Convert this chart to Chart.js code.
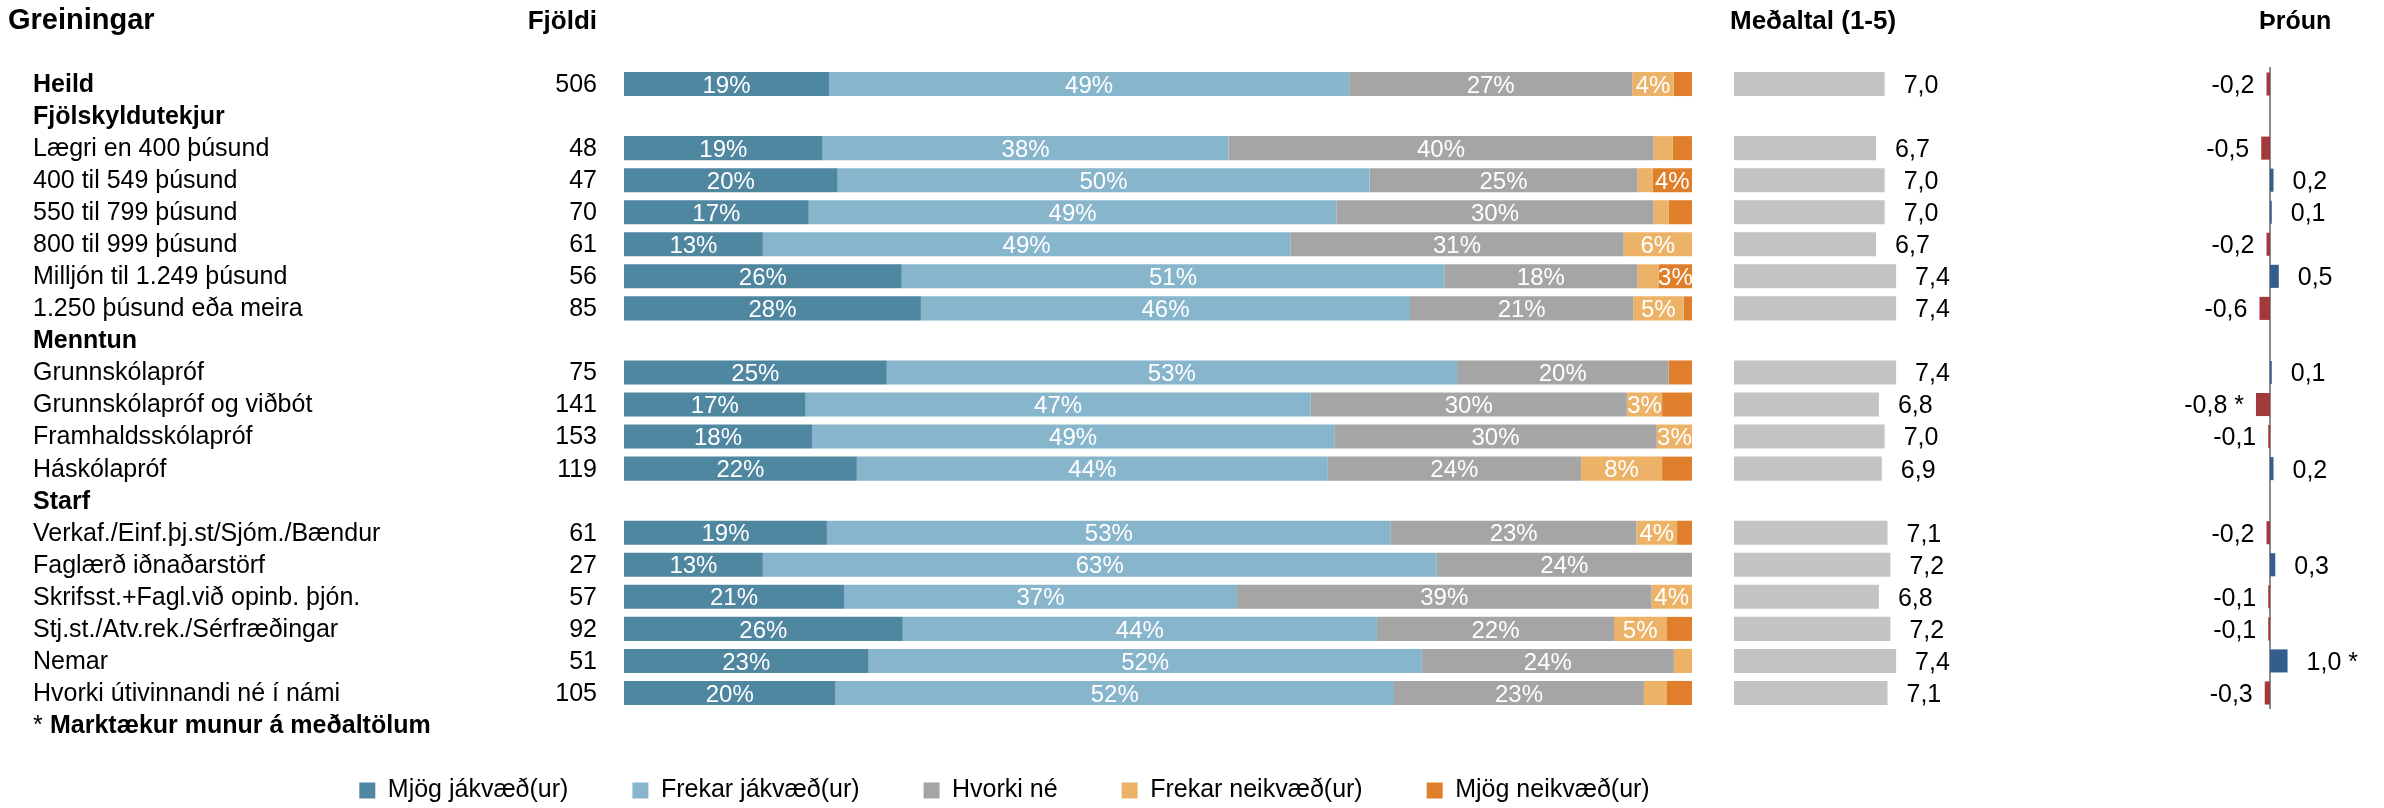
<!DOCTYPE html>
<html>
<head>
<meta charset="utf-8">
<script src="https://cdn.jsdelivr.net/npm/chart.js@4.4.1/dist/chart.umd.min.js"></script>
<style>
  body { margin: 0; background: #fff; }
  #wrap { position: relative; width: 2384px; height: 808px; overflow: hidden; }
  canvas { position: absolute; top: 0; }
</style>
</head>
<body>
<div id="wrap">
  <canvas id="main" width="2009" height="813" style="left:0"></canvas>
  <canvas id="mean" width="300" height="808" style="left:1700px"></canvas>
  <canvas id="trend" width="284" height="808" style="left:2100px"></canvas>
</div>
<script>
const FONT = "'Liberation Sans', Arial, sans-serif";

const categories = [
  "Heild", "Fjölskyldutekjur", "Lægri en 400 þúsund", "400 til 549 þúsund",
  "550 til 799 þúsund", "800 til 999 þúsund", "Milljón til 1.249 þúsund",
  "1.250 þúsund eða meira", "Menntun", "Grunnskólapróf", "Grunnskólapróf og viðbót",
  "Framhaldsskólapróf", "Háskólapróf", "Starf", "Verkaf./Einf.þj.st/Sjóm./Bændur",
  "Faglærð iðnaðarstörf", "Skrifsst.+Fagl.við opinb. þjón.", "Stj.st./Atv.rek./Sérfræðingar",
  "Nemar", "Hvorki útivinnandi né í námi"
];
const headerRows = ["Heild", "Fjölskyldutekjur", "Menntun", "Starf"];
const footnote = "Marktækur munur á meðaltölum";

const counts = [506, null, 48, 47, 70, 61, 56, 85, null, 75, 141, 153, 119, null, 61, 27, 57, 92, 51, 105];

const seriesNames = ["Mjög jákvæð(ur)", "Frekar jákvæð(ur)", "Hvorki né", "Frekar neikvæð(ur)", "Mjög neikvæð(ur)"];
const veryPositive = [19.2, null, 18.6, 20.0, 17.3, 13.0, 26.0, 27.8, null, 24.6, 17.0, 17.6, 21.8, null, 19.0, 13.0, 20.6, 26.1, 22.9, 19.8];
const positive     = [48.7, null, 38.0, 49.8, 49.4, 49.4, 50.8, 45.8, null, 53.4, 47.3, 48.9, 44.1, null, 52.8, 63.1, 36.8, 44.4, 51.8, 52.3];
const neither      = [26.5, null, 39.8, 25.1, 29.7, 31.2, 18.1, 20.9, null, 19.8, 29.6, 30.2, 23.7, null, 23.0, 23.9, 38.8, 22.2, 23.6, 23.4];
const negative     = [3.9, null, 1.8, 1.4, 1.4, 6.4, 2.0, 4.7, null, 0, 3.3, 3.3, 7.6, null, 3.8, 0, 3.8, 4.9, 1.7, 2.1];
const veryNegative = [1.8, null, 1.8, 3.7, 2.2, 0, 3.1, 0.8, null, 2.2, 2.8, 0, 2.8, null, 1.4, 0, 0, 2.4, 0, 2.4];
const seriesColors = ["#4f86a0", "#87b5cb", "#a5a5a5", "#ecb267", "#e07f2b"];

const means = [7.0, null, 6.7, 7.0, 7.0, 6.7, 7.4, 7.4, null, 7.4, 6.8, 7.0, 6.9, null, 7.1, 7.2, 6.8, 7.2, 7.4, 7.1];
const trend = [-0.2, null, -0.5, 0.2, 0.1, -0.2, 0.5, -0.6, null, 0.1, -0.8, -0.1, 0.2, null, -0.2, 0.3, -0.1, -0.1, 1.0, -0.3];
const trendSignificant = [false, false, false, false, false, false, false, false, false, false, true, false, false, false, false, false, false, false, true, false];

Chart.defaults.font.family = FONT;
Chart.defaults.color = "#000";

function fmt(v) {
  return v.toFixed(1).replace(".", ",");
}

// texts in and around the stacked bars
const mainText = {
  id: "mainText",
  afterDatasetsDraw(chart) {
    const ctx = chart.ctx;
    const y = chart.scales.y;
    ctx.save();
    ctx.font = "24px " + FONT;
    ctx.fillStyle = "#fff";
    ctx.textAlign = "center";
    ctx.textBaseline = "middle";
    chart.data.datasets.forEach((ds, k) => {
      chart.getDatasetMeta(k).data.forEach((bar, i) => {
        const v = ds.data[i];
        if (v == null || v < 3) return;
        ctx.fillText(Math.round(v) + "%", (bar.x + bar.base) / 2, bar.y + 2);
      });
    });

    ctx.fillStyle = "#000";
    categories.forEach((c, i) => {
      const py = y.getPixelForValue(i) + 1;
      ctx.textAlign = "left";
      ctx.font = (headerRows.includes(c) ? "bold " : "") + "25px " + FONT;
      ctx.fillText(c, 33, py);
      if (counts[i] != null) {
        ctx.textAlign = "right";
        ctx.font = "25px " + FONT;
        ctx.fillText(String(counts[i]), 597, py);
      }
    });

    // footnote under the last row
    const fy = y.getPixelForValue(categories.length) + 1;
    ctx.textAlign = "left";
    ctx.font = "25px " + FONT;
    ctx.fillText("*", 33, fy);
    ctx.font = "bold 25px " + FONT;
    ctx.fillText(footnote, 50, fy);

    ctx.textBaseline = "alphabetic";
    ctx.font = "bold 29px " + FONT;
    ctx.fillText("Greiningar", 8, 29);
    ctx.textAlign = "right";
    ctx.font = "bold 26px " + FONT;
    ctx.fillText("Fjöldi", 597, 29);
    ctx.restore();
  }
};

new Chart(document.getElementById("main"), {
  type: "bar",
  data: {
    labels: categories,
    datasets: [veryPositive, positive, neither, negative, veryNegative].map((d, k) => ({
      label: seriesNames[k],
      data: d,
      backgroundColor: seriesColors[k],
      barPercentage: 0.75,
      categoryPercentage: 1
    }))
  },
  options: {
    indexAxis: "y",
    animation: false,
    responsive: false,
    layout: { padding: { top: 68 } },
    scales: {
      x: { stacked: true, min: 0, max: 100, display: false },
      y: {
        stacked: true,
        grid: { display: false },
        border: { display: false },
        ticks: { display: false },
        afterFit: s => { s.width = 624; }
      },
      yRight: {
        type: "category",
        position: "right",
        labels: categories,
        grid: { display: false },
        border: { display: false },
        ticks: { display: false },
        afterFit: s => { s.width = 317; }
      }
    },
    plugins: {
      legend: {
        position: "bottom",
        title: { display: true, text: "", font: { size: 5, lineHeight: 1 } },
        labels: { font: { size: 25 }, boxWidth: 16, boxHeight: 16, padding: 64, color: "#000" }
      },
      tooltip: { enabled: false }
    }
  },
  plugins: [mainText]
});

const meanText = {
  id: "meanText",
  afterDatasetsDraw(chart) {
    const ctx = chart.ctx;
    ctx.save();
    ctx.font = "25px " + FONT;
    ctx.fillStyle = "#000";
    ctx.textAlign = "left";
    ctx.textBaseline = "middle";
    chart.getDatasetMeta(0).data.forEach((bar, i) => {
      if (means[i] == null) return;
      ctx.fillText(fmt(means[i]), bar.x + 19, bar.y + 2);
    });
    ctx.textBaseline = "alphabetic";
    ctx.font = "bold 26px " + FONT;
    ctx.fillText("Meðaltal (1-5)", 30, 29);
    ctx.restore();
  }
};

new Chart(document.getElementById("mean"), {
  type: "bar",
  data: {
    labels: categories,
    datasets: [{ data: means, backgroundColor: "#c3c3c3", barPercentage: 0.75, categoryPercentage: 1 }]
  },
  options: {
    indexAxis: "y",
    animation: false,
    responsive: false,
    layout: { padding: { top: 68, bottom: 99, left: 34, right: 66 } },
    scales: {
      x: { display: false, min: 1.75, max: 8.72 },
      y: { display: false }
    },
    plugins: { legend: { display: false }, tooltip: { enabled: false } }
  },
  plugins: [meanText]
});

const trendText = {
  id: "trendText",
  beforeDatasetsDraw(chart) {
    const ctx = chart.ctx;
    const x0 = chart.scales.x.getPixelForValue(0);
    ctx.save();
    ctx.strokeStyle = "#8a8a8a";
    ctx.lineWidth = 2;
    ctx.beginPath();
    ctx.moveTo(x0, chart.chartArea.top - 1);
    ctx.lineTo(x0, chart.chartArea.bottom);
    ctx.stroke();
    ctx.restore();
  },
  afterDatasetsDraw(chart) {
    const ctx = chart.ctx;
    ctx.save();
    ctx.font = "25px " + FONT;
    ctx.fillStyle = "#000";
    ctx.textBaseline = "middle";
    chart.getDatasetMeta(0).data.forEach((bar, i) => {
      const v = trend[i];
      if (v == null) return;
      const txt = fmt(v) + (trendSignificant[i] ? " *" : "");
      if (v < 0) {
        ctx.textAlign = "right";
        ctx.fillText(txt, bar.x - 12, bar.y + 2);
      } else {
        ctx.textAlign = "left";
        ctx.fillText(txt, bar.x + 19, bar.y + 2);
      }
    });
    ctx.textAlign = "left";
    ctx.textBaseline = "alphabetic";
    ctx.font = "bold 25px " + FONT;
    ctx.fillText("Þróun", 159, 29);
    ctx.restore();
  }
};

new Chart(document.getElementById("trend"), {
  type: "bar",
  data: {
    labels: categories,
    datasets: [{
      data: trend,
      backgroundColor: trend.map(v => (v != null && v < 0) ? "#a23a3c" : "#335d8c"),
      barPercentage: 0.72,
      categoryPercentage: 1
    }]
  },
  options: {
    indexAxis: "y",
    animation: false,
    responsive: false,
    layout: { padding: { top: 68, bottom: 99, left: 70, right: 14 } },
    scales: {
      x: { display: false, min: -5.7, max: 5.7 },
      y: { display: false }
    },
    plugins: { legend: { display: false }, tooltip: { enabled: false } }
  },
  plugins: [trendText]
});
</script>
</body>
</html>
